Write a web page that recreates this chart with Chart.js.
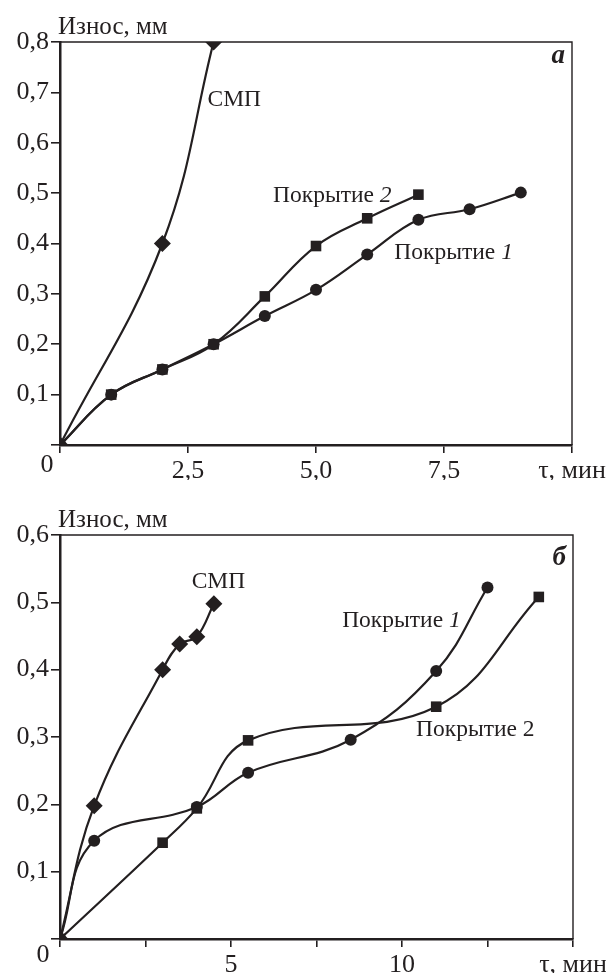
<!DOCTYPE html>
<html><head><meta charset="utf-8">
<script src="https://cdn.jsdelivr.net/npm/chart.js@4/dist/chart.umd.min.js"></script>
<style>
html,body{margin:0;padding:0;background:#fff;}
#wrapA{position:absolute;left:0;top:0;width:606px;height:480px;}
#wrapB{position:absolute;left:0;top:480px;width:606px;height:493px;}
</style></head>
<body>
<div id="wrapA"><canvas id="cA" width="606" height="480"></canvas></div>
<div id="wrapB"><canvas id="cB" width="606" height="493"></canvas></div>
<script>
// ---- Chart (а) data ----
const a_smp_x = [0, 2, 3];
const a_smp_y = [0, 0.40, 0.80];
const a_p2_x = [0, 1, 2, 3, 4, 5, 6, 7];
const a_p2_y = [0, 0.10, 0.15, 0.20, 0.295, 0.395, 0.45, 0.497];
const a_p1_x = [0, 1, 2, 3, 4, 5, 6, 7, 8, 9];
const a_p1_y = [0, 0.10, 0.15, 0.20, 0.256, 0.308, 0.378, 0.447, 0.468, 0.501];
const a_xTicks = [0, 2.5, 5, 7.5, 10];
const a_yTicks = [0, 0.1, 0.2, 0.3, 0.4, 0.5, 0.6, 0.7, 0.8];

// ---- Chart (б) data ----
const b_smp_x = [0, 1, 3, 3.5, 4, 4.5];
const b_smp_y = [0, 0.198, 0.40, 0.438, 0.449, 0.498];
const b_p1_x = [0, 1, 4, 5.5, 8.5, 11, 12.5];
const b_p1_y = [0, 0.146, 0.196, 0.247, 0.296, 0.398, 0.522];
const b_p2_x = [0, 3, 4, 5.5, 11, 14];
const b_p2_y = [0, 0.143, 0.194, 0.295, 0.345, 0.508];
const b_xTicks = [0, 2.5, 5, 7.5, 10, 12.5, 15];
const b_yTicks = [0, 0.1, 0.2, 0.3, 0.4, 0.5, 0.6];

const yTitle = 'Износ, мм';
const xTitle = 'τ, мин';

const INK = '#231f20';
const SERIF = '"Liberation Serif", "Times New Roman", serif';
const TICK_PX = 26, LABEL_PX = 23.5, TITLE_PX = 25;

function pts(xs, ys){ return xs.map((x,i)=>({x:x, y:ys[i]})); }
function comma(v, d){ return v.toFixed(d).replace('.', ','); }

function ds(label, xs, ys, style, r){
  return {label, data: pts(xs, ys), borderColor: INK, backgroundColor: INK,
    borderWidth: 2.2, tension: 0.4, pointStyle: style, pointRadius: r,
    pointBorderWidth: 0, pointBackgroundColor: INK, fill:false};
}

function makeChart(id, cfg){
  const framePlugin = {
    id: 'frame',
    afterDraw(chart){
      const c = chart.ctx, ca = chart.chartArea;
      const sx = chart.scales.x, sy = chart.scales.y;
      c.save();
      c.strokeStyle = INK; c.lineWidth = 1.4;
      c.beginPath();
      c.moveTo(ca.left, ca.top); c.lineTo(ca.right, ca.top); c.lineTo(ca.right, ca.bottom);
      c.stroke();
      c.fillStyle = INK;
      c.textBaseline = 'alphabetic';
      c.font = TITLE_PX + 'px ' + SERIF;
      c.textAlign = 'left';
      c.fillText(yTitle, ca.left - 2, ca.top - cfg.titleGap);
      c.font = TICK_PX + 'px ' + SERIF;
      c.textAlign = 'center';
      c.fillText('0', ca.left + cfg.zeroDx, ca.bottom + cfg.zeroDy);
      c.font = 'italic bold 27px ' + SERIF;
      c.textAlign = 'right';
      c.fillText(cfg.letter, ca.right - 7, ca.top + cfg.letterDy);
      c.textAlign = 'left';
      cfg.labels.forEach(l => {
        const px = sx.getPixelForValue(l.x), py = sy.getPixelForValue(l.y);
        c.font = LABEL_PX + 'px ' + SERIF;
        c.fillText(l.t, px, py);
        if (l.n) {
          const w = c.measureText(l.t).width;
          c.font = (l.it ? 'italic ' : '') + LABEL_PX + 'px ' + SERIF;
          c.fillText(l.n, px + w, py);
        }
      });
      c.restore();
    }
  };
  return new Chart(document.getElementById(id), {
    type: 'line',
    data: {datasets: cfg.datasets},
    options: {
      responsive: false, animation: false,
      layout: {padding: {top: cfg.top, right: cfg.right, left: 0, bottom: 0}},
      plugins: {legend: {display:false}, tooltip: {enabled:false}},
      scales: {
        x: {type:'linear', min: cfg.xTicks[0], max: cfg.xTicks[cfg.xTicks.length-1],
          afterBuildTicks: s => { s.ticks = cfg.xTicks.map(v => ({value: v})); },
          afterFit: s => { s.height = cfg.xH; s.paddingLeft = 0; s.paddingRight = 0; },
          ticks: {autoSkip:false, maxRotation:0, color: INK, padding: 3,
            font: {family: SERIF, size: TICK_PX},
            callback: cfg.xLabel},
          grid: {drawOnChartArea:false, drawTicks:true, tickLength:8, color: INK, lineWidth:1.6},
          border: {color: INK, width: 2.5}
        },
        y: {type:'linear', min: cfg.yTicks[0], max: cfg.yTicks[cfg.yTicks.length-1],
          afterBuildTicks: s => { s.ticks = cfg.yTicks.map(v => ({value: v})); },
          afterFit: s => { s.width = 60; s.paddingTop = 0; s.paddingBottom = 0; },
          ticks: {color: INK, padding: 2, font: {family: SERIF, size: TICK_PX},
            callback: v => v === 0 ? '' : comma(v, 1)},
          grid: {drawOnChartArea:false, drawTicks:true, tickLength:9, color: INK, lineWidth:1.6},
          border: {color: INK, width: 2.5}
        }
      }
    },
    plugins: [framePlugin]
  });
}

makeChart('cA', {
  top: 42, right: 34, xH: 35, xTicks: a_xTicks, yTicks: a_yTicks,
  titleGap: 8, zeroDx: -13, zeroDy: 27, letter: 'а', letterDy: 21,
  xLabel: v => v === 0 ? '' : (v === 10 ? xTitle : comma(v, 1)),
  datasets: [
    ds('СМП', a_smp_x, a_smp_y, 'rectRot', 8.5),
    ds('Покрытие 2', a_p2_x, a_p2_y, 'rect', 7.5),
    ds('Покрытие 1', a_p1_x, a_p1_y, 'circle', 6)
  ],
  labels: [
    {x: 2.88, y: 0.672, t: 'СМП'},
    {x: 4.16, y: 0.483, t: 'Покрытие ', n: '2', it: true},
    {x: 6.53, y: 0.370, t: 'Покрытие ', n: '1', it: true}
  ]
});

makeChart('cB', {
  top: 55, right: 33, xH: 493 - 459, xTicks: b_xTicks, yTicks: b_yTicks,
  titleGap: 8, zeroDx: -17, zeroDy: 23, letter: 'б', letterDy: 30,
  xLabel: v => (v === 15 ? xTitle : (v === 5 || v === 10 ? String(v) : '')),
  datasets: [
    ds('СМП', b_smp_x, b_smp_y, 'rectRot', 8.5),
    ds('Покрытие 1', b_p1_x, b_p1_y, 'circle', 6),
    ds('Покрытие 2', b_p2_x, b_p2_y, 'rect', 7.5)
  ],
  labels: [
    {x: 3.85, y: 0.5215, t: 'СМП'},
    {x: 8.25, y: 0.4636, t: 'Покрытие ', n: '1', it: true},
    {x: 10.41, y: 0.3016, t: 'Покрытие ', n: '2', it: false}
  ]
});
</script>
</body></html>
